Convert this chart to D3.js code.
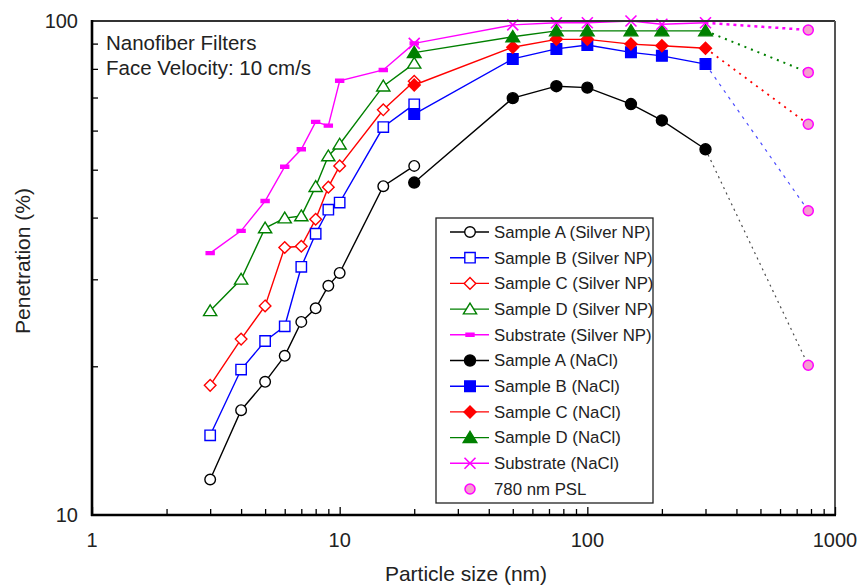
<!DOCTYPE html>
<html>
<head>
<meta charset="utf-8">
<script src="https://cdn.jsdelivr.net/npm/d3@7"></script>
<style>
  body { margin: 0; background: #fff; }
  svg { font-family: Arial, "Liberation Sans", sans-serif; }
</style>
</head>
<body>
<svg id="chart" width="860" height="585"></svg>
<script>
// particle sizes (nm)
var sizesNP = [3, 4, 5, 6, 7, 8, 9, 10, 15, 20];
var sizesNaCl = [20, 50, 75, 100, 150, 200, 300];
var pslSize = 780;

// penetration (%) - silver NP
var sampleA_np = [11.8, 16.3, 18.6, 21.0, 24.6, 26.2, 29.1, 30.9, 46.3, 50.9];
var sampleB_np = [14.5, 19.7, 22.5, 24.1, 31.8, 37.1, 41.5, 42.9, 61.0, 67.8];
var sampleC_np = [18.3, 22.7, 26.5, 34.8, 35.0, 39.7, 46.1, 50.9, 66.1, 75.5];
var sampleD_np = [25.9, 30.0, 38.1, 39.9, 40.3, 46.2, 53.3, 56.3, 73.8, 82.1];
var substrate_np = [33.9, 37.6, 43.2, 50.7, 55.0, 62.5, 61.4, 75.7, 79.6, 90.1];

// penetration (%) - NaCl
var sampleA_nacl = [47.1, 69.8, 73.8, 73.3, 67.9, 62.9, 55.0];
var sampleB_nacl = [64.8, 83.8, 87.8, 89.4, 86.4, 85.0, 81.8];
var sampleC_nacl = [74.2, 88.5, 91.8, 91.8, 89.8, 89.1, 88.1];
var sampleD_nacl = [86.3, 92.9, 95.5, 95.5, 95.5, 95.5, 95.5];
var substrate_nacl = [90.1, 98.2, 99.2, 99.2, 100, 98.5, 99.2];

// 780 nm PSL, A..D then substrate
var psl = [20.1, 41.3, 61.8, 78.7, 95.9];

var xTicks = [1, 10, 100, 1000];
var yTicks = [10, 100];

var margin = { top: 21, right: 25, bottom: 70, left: 92 };
var width = 860 - margin.left - margin.right;
var height = 585 - margin.top - margin.bottom;

var svg = d3.select("#chart");
var g = svg.append("g")
    .attr("transform", "translate(" + margin.left + "," + margin.top + ")");

var x = d3.scaleLog().domain([1, 1000]).range([0, width]);
var y = d3.scaleLog().domain([10, 100]).range([height, 0]);

// marker shapes
function markerPath(shape, s) {
    var p = d3.path();
    if (shape == "circle") {
        p.moveTo(s, 0); p.arc(0, 0, s, 0, 2 * Math.PI);
    } else if (shape == "square") {
        p.rect(-s, -s, 2 * s, 2 * s);
    } else if (shape == "diamond") {
        p.moveTo(0, -s); p.lineTo(s, 0); p.lineTo(0, s); p.lineTo(-s, 0); p.closePath();
    } else if (shape == "triangle") {
        p.moveTo(0, -s); p.lineTo(s * 1.1, s * 0.8); p.lineTo(-s * 1.1, s * 0.8); p.closePath();
    } else if (shape == "dash") {
        p.rect(-s, -1.5, 2 * s, 3);
    } else if (shape == "x") {
        p.moveTo(-s, -s); p.lineTo(s, s); p.moveTo(s, -s); p.lineTo(-s, s);
    }
    return p.toString();
}

var series = [
    { name: "Sample A (Silver NP)", xs: sizesNP, ys: sampleA_np, color: "#000000", shape: "circle", size: 5.3, filled: false },
    { name: "Sample B (Silver NP)", xs: sizesNP, ys: sampleB_np, color: "#0000ff", shape: "square", size: 5.2, filled: false },
    { name: "Sample C (Silver NP)", xs: sizesNP, ys: sampleC_np, color: "#ff0000", shape: "diamond", size: 5.8, filled: false },
    { name: "Sample D (Silver NP)", xs: sizesNP, ys: sampleD_np, color: "#008000", shape: "triangle", size: 6, filled: false },
    { name: "Substrate (Silver NP)", xs: sizesNP, ys: substrate_np, color: "#ff00ff", shape: "dash", size: 4, filled: true },
    { name: "Sample A (NaCl)", xs: sizesNaCl, ys: sampleA_nacl, color: "#000000", shape: "circle", size: 5.5, filled: true },
    { name: "Sample B (NaCl)", xs: sizesNaCl, ys: sampleB_nacl, color: "#0000ff", shape: "square", size: 5.3, filled: true },
    { name: "Sample C (NaCl)", xs: sizesNaCl, ys: sampleC_nacl, color: "#ff0000", shape: "diamond", size: 6, filled: true },
    { name: "Sample D (NaCl)", xs: sizesNaCl, ys: sampleD_nacl, color: "#008000", shape: "triangle", size: 6.2, filled: true },
    { name: "Substrate (NaCl)", xs: sizesNaCl, ys: substrate_nacl, color: "#ff00ff", shape: "x", size: 5.5, filled: false }
];

var line = d3.line()
    .x(function (d) { return x(d[0]); })
    .y(function (d) { return y(d[1]); });

// dotted extrapolation from NaCl 300 nm to PSL 780 nm
var dotStyle = [
    { w: 1.2, dash: "2,4" },
    { w: 1.2, dash: "3,5" },
    { w: 1.8, dash: "2,5" },
    { w: 2, dash: "2,5" },
    { w: 2.5, dash: "3,4" }
];
series.slice(5).forEach(function (s, i) {
    var last = s.ys.length - 1;
    g.append("path")
        .attr("d", line([[s.xs[last], s.ys[last]], [pslSize, psl[i]]]))
        .attr("fill", "none")
        .attr("stroke", s.color)
        .attr("stroke-width", dotStyle[i].w)
        .attr("stroke-dasharray", dotStyle[i].dash)
        .attr("opacity", i < 2 ? 0.7 : 1);
});

series.forEach(function (s) {
    var pts = s.xs.map(function (v, i) { return [v, s.ys[i]]; });
    g.append("path")
        .attr("d", line(pts))
        .attr("fill", "none")
        .attr("stroke", s.color)
        .attr("stroke-width", 1.4);
});

series.forEach(function (s) {
    var pts = s.xs.map(function (v, i) { return [v, s.ys[i]]; });
    g.selectAll(null)
        .data(pts)
        .enter()
        .append("path")
        .attr("transform", function (d) { return "translate(" + x(d[0]) + "," + y(d[1]) + ")"; })
        .attr("d", markerPath(s.shape, s.size))
        .attr("fill", s.filled ? s.color : (s.shape == "x" ? "none" : "#fff"))
        .attr("stroke", s.color)
        .attr("stroke-width", s.shape == "x" ? 1.6 : 1.4);
});

// PSL points
g.selectAll(".psl")
    .data(psl)
    .enter()
    .append("circle")
    .attr("class", "psl")
    .attr("cx", x(pslSize))
    .attr("cy", function (d) { return y(d); })
    .attr("r", 5)
    .attr("fill", "#f59fcf")
    .attr("stroke", "#ff00ff")
    .attr("stroke-width", 1.5);

// frame
g.append("line").attr("x1", 0).attr("x2", width).attr("y1", 0).attr("y2", 0)
    .attr("stroke", "#333").attr("stroke-width", 2);
g.append("line").attr("x1", width).attr("x2", width).attr("y1", 0).attr("y2", height)
    .attr("stroke", "#555").attr("stroke-width", 2);

// axes, ticks pointing inward
var xMinor = [];
var yMinor = [];
[1, 10, 100].forEach(function (dec) {
    for (var k = 2; k <= 9; k++) xMinor.push(dec * k);
});
for (var k = 2; k <= 9; k++) yMinor.push(10 * k);

var xAxis = g.append("g").attr("transform", "translate(0," + height + ")");
xAxis.append("g")
    .call(d3.axisTop(x).tickValues(xMinor).tickSize(6).tickFormat(""))
    .call(function (a) { a.select(".domain").remove(); });
xAxis.append("g")
    .call(d3.axisTop(x).tickValues(xTicks).tickSize(8).tickFormat(""))
    .call(function (a) { a.select(".domain").remove(); });
xAxis.selectAll(".tick line").attr("stroke", "#000").attr("stroke-width", 1.3);
xAxis.append("line").attr("x1", -1).attr("x2", width + 1)
    .attr("stroke", "#000").attr("stroke-width", 2.6);
xAxis.selectAll(".xlab")
    .data(xTicks)
    .enter()
    .append("text")
    .attr("x", function (d) { return x(d); })
    .attr("y", 32)
    .attr("text-anchor", "middle")
    .attr("font-size", 20)
    .attr("fill", "#222")
    .text(function (d) { return d; });

var yAxis = g.append("g");
yAxis.append("g")
    .call(d3.axisRight(y).tickValues(yMinor).tickSize(6).tickFormat(""))
    .call(function (a) { a.select(".domain").remove(); });
yAxis.selectAll(".tick line").attr("stroke", "#000").attr("stroke-width", 1.3);
yAxis.append("line").attr("y1", -1).attr("y2", height + 1)
    .attr("stroke", "#000").attr("stroke-width", 2.6);
yAxis.selectAll(".ylab")
    .data(yTicks)
    .enter()
    .append("text")
    .attr("x", -14)
    .attr("y", function (d) { return y(d); })
    .attr("dy", "0.36em")
    .attr("text-anchor", "end")
    .attr("font-size", 20)
    .attr("fill", "#222")
    .text(function (d) { return d; });

// axis titles
svg.append("text")
    .attr("x", 466)
    .attr("y", 581)
    .attr("text-anchor", "middle")
    .attr("font-size", 21)
    .attr("fill", "#222")
    .text("Particle size (nm)");
svg.append("text")
    .attr("transform", "translate(30,261) rotate(-90)")
    .attr("text-anchor", "middle")
    .attr("font-size", 21)
    .attr("fill", "#222")
    .text("Penetration (%)");

// annotation
g.append("text").attr("x", 14).attr("y", 29).attr("font-size", 20.5).attr("fill", "#222")
    .text("Nanofiber Filters");
g.append("text").attr("x", 14).attr("y", 54).attr("font-size", 20.5).attr("fill", "#222")
    .text("Face Velocity: 10 cm/s");

// legend
var legend = svg.append("g").attr("transform", "translate(436,218)");
legend.append("rect")
    .attr("width", 217).attr("height", 285)
    .attr("fill", "#fff").attr("stroke", "#222").attr("stroke-width", 1.3);

var legendItems = series.map(function (s) { return s; });
legendItems.push({ name: "780 nm PSL", psl: true });

var rows = legend.selectAll(".row")
    .data(legendItems)
    .enter()
    .append("g")
    .attr("transform", function (d, i) { return "translate(0," + (14 + i * 25.7) + ")"; });

rows.filter(function (d) { return !d.psl; })
    .append("line")
    .attr("x1", 14).attr("x2", 53)
    .attr("stroke", function (d) { return d.color; })
    .attr("stroke-width", 1.4);
rows.filter(function (d) { return !d.psl; })
    .append("path")
    .attr("transform", "translate(34,0)")
    .attr("d", function (d) { return markerPath(d.shape, d.size); })
    .attr("fill", function (d) { return d.filled ? d.color : (d.shape == "x" ? "none" : "#fff"); })
    .attr("stroke", function (d) { return d.color; })
    .attr("stroke-width", function (d) { return d.shape == "x" ? 1.6 : 1.4; });
rows.filter(function (d) { return d.psl; })
    .append("circle")
    .attr("cx", 34).attr("r", 5)
    .attr("fill", "#f59fcf").attr("stroke", "#ff00ff").attr("stroke-width", 1.5);
rows.append("text")
    .attr("x", 58)
    .attr("dy", "0.35em")
    .attr("font-size", 16.8)
    .attr("fill", "#222")
    .text(function (d) { return d.name; });
</script>
</body>
</html>
